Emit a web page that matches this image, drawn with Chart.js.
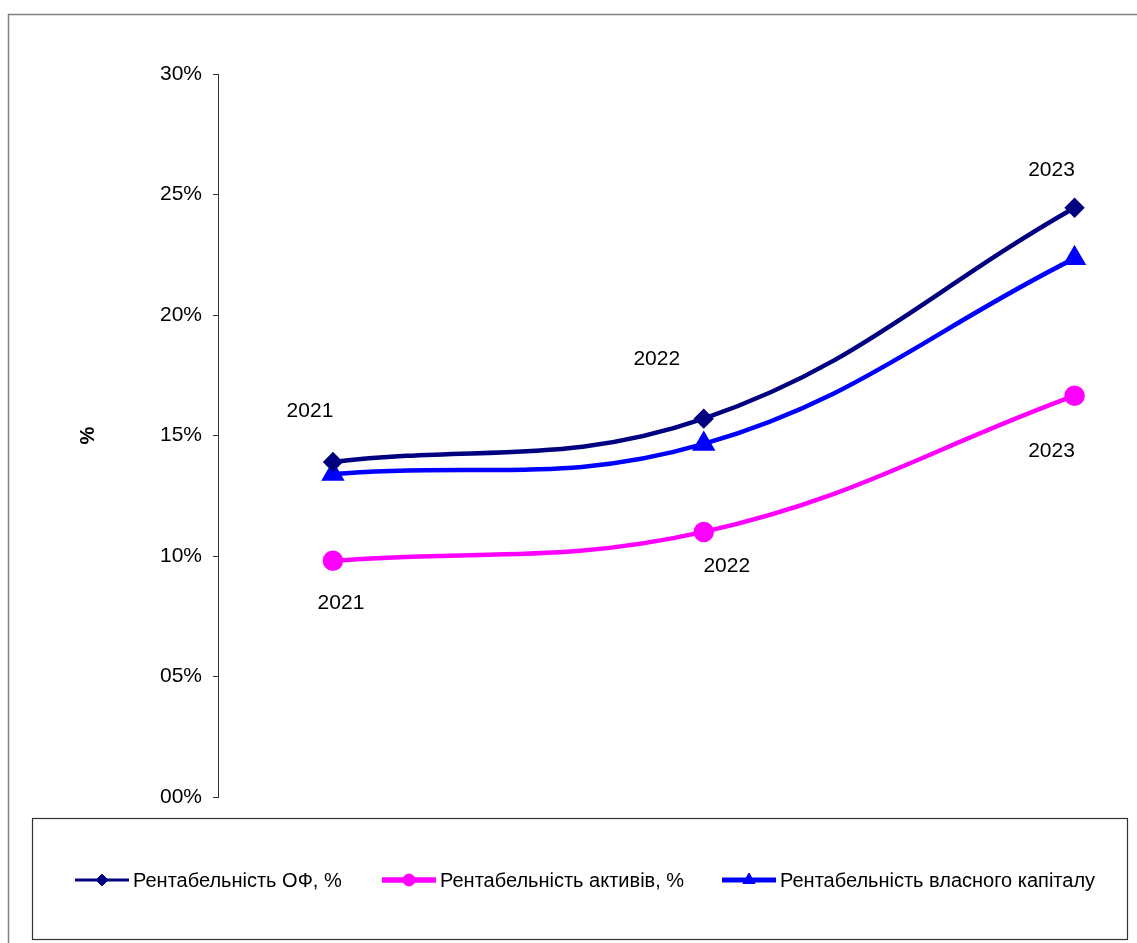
<!DOCTYPE html>
<html>
<head>
<meta charset="utf-8">
<script src="https://cdn.jsdelivr.net/npm/chart.js@4"></script>
<style>
  html, body { margin: 0; padding: 0; background: #fff; overflow: hidden; }
  #wrap { width: 1137px; height: 943px; }
  canvas { display: block; }
</style>
</head>
<body>
<div id="wrap"><canvas id="myChart" width="1137" height="943"></canvas></div>
<script>
// years on the x axis
const years = ['2021', '2022', '2023'];

// values in percent
const returnOnFixedAssets = [13.9, 15.7, 24.45];
const returnOnAssets = [9.8, 11.0, 16.65];
const returnOnEquity = [13.4, 14.65, 22.35];

const seriesNames = [
    'Рентабельність ОФ, %',
    'Рентабельність активів, %',
    'Рентабельність власного капіталу'
];

const yTicks = [0, 5, 10, 15, 20, 25, 30];

const FONT = '"Liberation Sans", Arial, sans-serif';

function toPoints(values) {
    return values.map((v, i) => ({ x: Number(years[i]), y: v }));
}

// draws the year labels next to the points (like excel data labels)
const yearLabels = {
    id: 'yearLabels',
    afterDatasetsDraw(chart) {
        const ctx = chart.ctx;
        ctx.save();
        ctx.font = '21px ' + FONT;
        ctx.fillStyle = '#000';
        ctx.textAlign = 'center';
        ctx.textBaseline = 'middle';
        chart.data.datasets.forEach((ds, di) => {
            if (!ds.labelOffsets) return;
            const meta = chart.getDatasetMeta(di);
            meta.data.forEach((pt, i) => {
                const off = ds.labelOffsets[i];
                ctx.fillText(years[i], pt.x + off[0], pt.y + off[1]);
            });
        });
        ctx.restore();
    }
};

// frame around everything and the boxed legend at the bottom
const frameAndLegend = {
    id: 'frameAndLegend',
    afterDraw(chart) {
        const ctx = chart.ctx;
        ctx.save();
        ctx.strokeStyle = '#808080';
        ctx.lineWidth = 1.5;
        ctx.beginPath();
        ctx.moveTo(8.5, 950);
        ctx.lineTo(8.5, 14.5);
        ctx.lineTo(1145, 14.5);
        ctx.stroke();

        ctx.strokeStyle = '#333';
        ctx.lineWidth = 1.2;
        ctx.strokeRect(32.5, 818.5, 1095, 121);

        const itemX = [75, 382, 722];
        const y = 880;
        ctx.font = '20px ' + FONT;
        ctx.textBaseline = 'middle';
        ctx.textAlign = 'left';
        chart.data.datasets.forEach((ds, i) => {
            const x0 = itemX[i];
            ctx.strokeStyle = ds.borderColor;
            ctx.lineWidth = ds.legendLineWidth;
            ctx.beginPath();
            ctx.moveTo(x0, y);
            ctx.lineTo(x0 + 54, y);
            ctx.stroke();
            ctx.fillStyle = ds.pointBackgroundColor;
            ctx.strokeStyle = ds.pointBorderColor;
            ctx.lineWidth = 1;
            Chart.helpers.drawPoint(ctx, {
                pointStyle: ds.pointStyle,
                radius: ds.legendRadius,
                borderWidth: 1
            }, x0 + 27, y);
            ctx.fillStyle = '#000';
            ctx.fillText(ds.label, x0 + 58, y + 1);
        });
        ctx.restore();
    }
};

const ctx = document.getElementById('myChart');

const chart = new Chart(ctx, {
    type: 'line',
    data: {
        datasets: [{
            label: seriesNames[0],
            data: toPoints(returnOnFixedAssets),
            borderColor: '#000080',
            backgroundColor: '#000080',
            pointBackgroundColor: '#000080',
            pointBorderColor: '#000080',
            borderWidth: 4.5,
            pointStyle: 'rectRot',
            pointRadius: 7,
            legendRadius: 6,
            legendLineWidth: 3,
            tension: 0.4,
            labelOffsets: [[-23, -51], [-47, -59], [-23, -38]]
        }, {
            label: seriesNames[1],
            data: toPoints(returnOnAssets),
            borderColor: '#ff00ff',
            backgroundColor: '#ff00ff',
            pointBackgroundColor: '#ff00ff',
            pointBorderColor: '#ff00ff',
            borderWidth: 4.5,
            pointStyle: 'circle',
            pointRadius: 8,
            legendRadius: 6,
            legendLineWidth: 5.5,
            tension: 0.4,
            labelOffsets: [[8, 42], [23, 34], [-23, 55]]
        }, {
            label: seriesNames[2],
            data: toPoints(returnOnEquity),
            borderColor: '#0000ff',
            backgroundColor: '#0000ff',
            pointBackgroundColor: '#0000ff',
            pointBorderColor: '#0000ff',
            borderWidth: 4.5,
            pointStyle: 'triangle',
            pointRadius: 9,
            legendRadius: 7,
            legendLineWidth: 5,
            tension: 0.4
        }]
    },
    options: {
        responsive: false,
        animation: false,
        layout: {
            padding: { left: 0, top: 74, right: 0, bottom: 146 }
        },
        plugins: {
            legend: { display: false },
            tooltip: { enabled: false }
        },
        scales: {
            x: {
                type: 'linear',
                display: false,
                min: 2020.69,
                max: 2023.132
            },
            y: {
                min: 0,
                max: 30,
                afterFit(scale) { scale.width = 218; },
                afterBuildTicks(scale) { scale.ticks = yTicks.map(v => ({ value: v })); },
                ticks: {
                    padding: 11,
                    color: '#000',
                    font: { family: FONT, size: 21 },
                    callback: v => String(v).padStart(2, '0') + '%'
                },
                grid: {
                    drawOnChartArea: false,
                    drawTicks: true,
                    tickLength: 5,
                    color: '#333'
                },
                border: { display: true, color: '#333', width: 1 },
                title: {
                    display: true,
                    text: '%',
                    color: '#000',
                    font: { family: FONT, size: 20, weight: 'bold' },
                    padding: { top: 76, bottom: 0 }
                }
            }
        }
    },
    plugins: [yearLabels, frameAndLegend]
});
</script>
</body>
</html>
